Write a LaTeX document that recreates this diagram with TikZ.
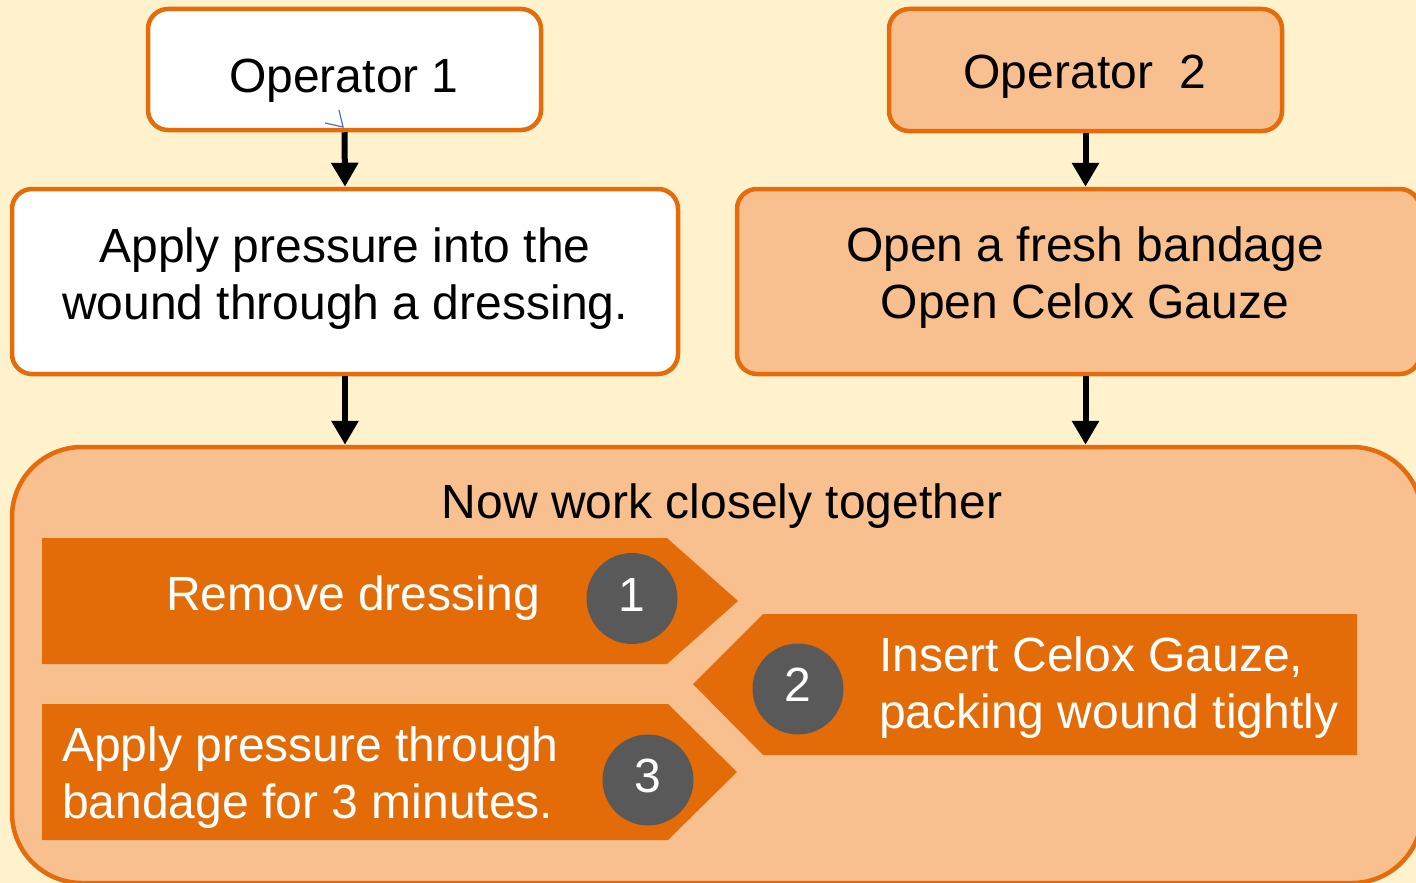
\documentclass[tikz,border=0pt]{standalone}
\usepackage{fontspec}
\setmainfont{Liberation Sans}
\usetikzlibrary{arrows.meta}
\definecolor{bg}{HTML}{FFF2CC}
\definecolor{peach}{HTML}{F9C08F}
\definecolor{oborder}{HTML}{E46C0A}
\definecolor{ofill}{HTML}{E36C09}
\definecolor{dgray}{HTML}{595959}
\definecolor{stray}{HTML}{4472C4}
\tikzset{
  box/.style={draw=oborder, line width=4.5pt, rounded corners=20pt, inner sep=0pt},
  lbl/.style={align=center, inner sep=0pt, font=\fontsize{48}{57}\selectfont},
  flow/.style={line width=6pt, -{Triangle[length=24pt,width=26pt]}},
  numc/.style={circle, fill=dgray, minimum size=91pt, inner sep=0pt, text=white,
    text height=35pt, text depth=10pt, font=\fontsize{48}{50}\selectfont},
  steptext/.style={text=white, inner sep=0pt, font=\fontsize{48}{57}\selectfont},
  chev/.style={fill=ofill}
}
\begin{document}
\begin{tikzpicture}[x=1pt,y=-1pt]
\fill[bg] (0,0) rectangle (1416,883);
\useasboundingbox (0,0) rectangle (1416,883);
% top boxes
\node[box, fill=white, minimum width=393pt, minimum height=121pt] (op1) at (344.5,69.5) {};
\node[lbl] (op1t) at (344,80.5) {Operator 1};
\node[box, fill=peach, minimum width=393pt, minimum height=122pt] (op2) at (1085.5,70) {};
\node[lbl] (op2t) at (1085,77) {Operator\ \ 2};
\node[box, fill=white, minimum width=666pt, minimum height=185pt] (ap) at (345,281.5) {};
\node[lbl] (apt) at (345,278.5) {Apply pressure into the\\wound through a dressing.};
\node[box, fill=peach, minimum width=683pt, minimum height=185pt] (of) at (1078.5,281.5) {};
\node[lbl] (oft) at (1085,278) {Open a fresh bandage\\Open Celox Gauze};
% big box
\node[box, fill=peach, rounded corners=70pt, minimum width=1410pt, minimum height=436pt] (big) at (717,665) {};
\node[lbl] (now) at (722,506) {Now work closely together};
% arrows
\draw[flow] (op1.south) -- (ap.north);
\draw[flow] (op2.south) -- (op2.south |- of.north);
\draw[flow] (ap.south) -- (ap.south |- big.north);
\draw[flow] (op2.south |- of.south) -- (op2.south |- big.north);
% stray blue tip
\coordinate (tip) at (343,127);
\draw[stray, line width=1.2pt] (325,123) -- (tip) -- (339,110);
% chevrons
\fill[chev] (42,538) -- (667,538) -- (738,601) -- (667,664) -- (42,664) -- cycle;
\fill[chev] (763,614) -- (1357,614) -- (1357,755) -- (763,755) -- (693,684) -- cycle;
\fill[chev] (42,704) -- (668,704) -- (737,772) -- (668,840) -- (42,840) -- cycle;
% circles
\node[numc] (c1) at (632,598.5) {1};
\node[numc] (c2) at (798,689) {2};
\node[numc] (c3) at (648,780) {3};
% step texts
\node[steptext, anchor=east] (s1) at (540,598) {Remove dressing};
\node[steptext, anchor=west, align=left] (s2) at (879,687.5) {Insert Celox Gauze,\\packing wound tightly};
\node[steptext, anchor=west, align=left] (s3) at (62,777.5) {Apply pressure through\\bandage for 3 minutes.};
\end{tikzpicture}
\end{document}
